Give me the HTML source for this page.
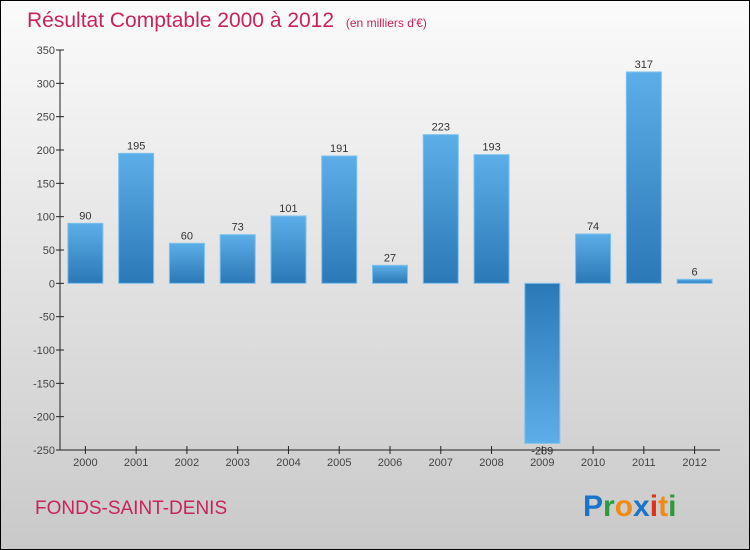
<!DOCTYPE html>
<html><head><meta charset="utf-8"><style>
body{margin:0}
svg{display:block;font-family:"Liberation Sans",sans-serif}
</style></head><body>
<svg width="750" height="550" viewBox="0 0 750 550">
<defs>
<linearGradient id="bg" x1="0" y1="0" x2="0" y2="1"><stop offset="0" stop-color="#fbfbfb"/><stop offset="1" stop-color="#c9c9c9"/></linearGradient>
<linearGradient id="pos" x1="0" y1="0" x2="0" y2="1"><stop offset="0" stop-color="#5caee8"/><stop offset="1" stop-color="#2b78b6"/></linearGradient>
<linearGradient id="neg" x1="0" y1="0" x2="0" y2="1"><stop offset="0" stop-color="#2b78b6"/><stop offset="1" stop-color="#5caee8"/></linearGradient>
</defs>
<rect x="0.5" y="0.5" width="749" height="549" fill="url(#bg)" stroke="#000"/>
<text x="27" y="27" font-size="21" fill="#c8245c">Résultat Comptable 2000 à 2012 <tspan font-size="12" dx="6">(en milliers d'€)</tspan></text>
<g id="axes"></g>
<g id="bars"></g>
<text x="35" y="514" font-size="19" fill="#c8245c">FONDS-SAINT-DENIS</text>
<g font-size="30" font-weight="bold" font-family="'Liberation Sans',sans-serif">
<text x="583" y="516"><tspan fill="#1a74c8">P</tspan><tspan fill="#2a9a3a">r</tspan><tspan fill="#f08a10">o</tspan><tspan fill="#1a74c8">x</tspan><tspan fill="#e03020">i</tspan><tspan fill="#f08a10">t</tspan><tspan fill="#2a9a3a">i</tspan></text>
</g>
</svg>
<script>
const categories=["2000","2001","2002","2003","2004","2005","2006","2007","2008","2009","2010","2011","2012"];
const values=[90,195,60,73,101,191,27,223,193,-289,74,317,6];
const yTicks=[350,300,250,200,150,100,50,0,-50,-100,-150,-200,-250];
const NS="http://www.w3.org/2000/svg";
const x0=60,x1=720,yTop=50,yBot=450,vMax=350,vMin=-250;
const y=v=>yTop+(vMax-v)*(yBot-yTop)/(vMax-vMin);
const band=(x1-x0)/categories.length;
const xc=i=>x0+band*(i+0.5);
function mk(t,a,p){const e=document.createElementNS(NS,t);for(const k in a)e.setAttribute(k,a[k]);p.appendChild(e);return e;}
const ax=document.getElementById('axes'),bg=document.getElementById('bars');
let l=mk('line',{x1:x0,y1:yTop,x2:x0,y2:yBot,stroke:'#222'},ax);


l=mk('line',{x1:x0,y1:yBot,x2:x1,y2:yBot,stroke:'#222'},ax);


yTicks.forEach(v=>{
 mk('line',{x1:x0-4,y1:y(v),x2:x0+4,y2:y(v),stroke:'#222'},ax);
 const t=mk('text',{x:x0-5,y:y(v)+4,'text-anchor':'end','font-size':11,fill:'#444'},ax);
 t.textContent=v;
 
 
});
categories.forEach((c,i)=>{
 mk('line',{x1:xc(i),y1:yBot-4,x2:xc(i),y2:yBot+4,stroke:'#222'},ax);
 const t=mk('text',{x:xc(i),y:yBot+16,'text-anchor':'middle','font-size':11,fill:'#444'},ax);
 t.textContent=c;
 
 
 const v=values[i],vc=Math.max(Math.min(v,vMax),vMin+10);
 const top=Math.min(y(vc),y(0)),h=Math.abs(y(vc)-y(0));
 const r=mk('rect',{x:xc(i)-17.5,y:top,width:35,height:Math.max(h,1),fill:v>=0?'url(#pos)':'url(#neg)',stroke:'#7cc0ee','stroke-width':1},bg);
 
 
 const ly=v>=0?y(vc)-4:y(vc)+11;
 const lt=mk('text',{x:xc(i),y:ly,'text-anchor':'middle','font-size':11,fill:'#333'},bg);
 lt.textContent=v;
 
 
});
</script>
</body></html>
